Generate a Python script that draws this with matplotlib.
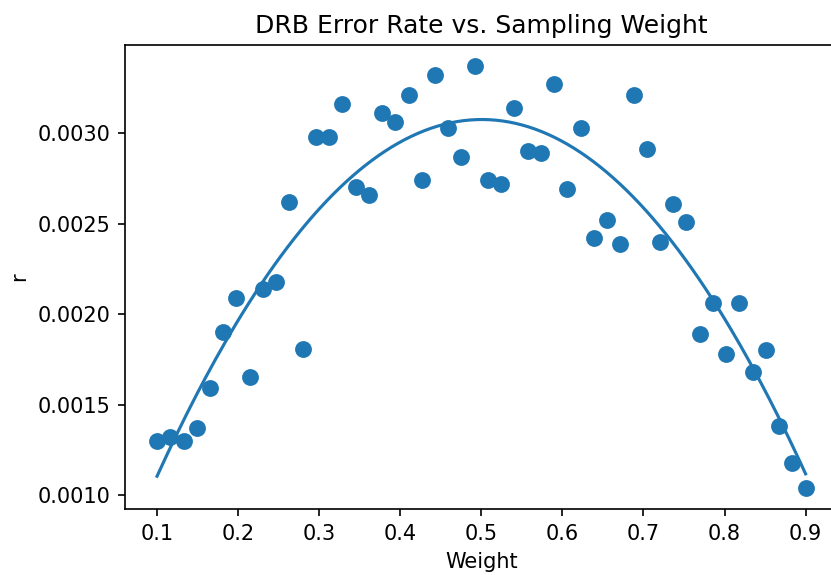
import numpy as np
import matplotlib
matplotlib.use('Agg')
import matplotlib.pyplot as plt

weights = [0.1000, 0.1163, 0.1327, 0.1490, 0.1653, 0.1816, 0.1980, 0.2143, 0.2306, 0.2469,
           0.2633, 0.2796, 0.2959, 0.3122, 0.3286, 0.3449, 0.3612, 0.3776, 0.3939, 0.4102,
           0.4265, 0.4429, 0.4592, 0.4755, 0.4918, 0.5082, 0.5245, 0.5408, 0.5571, 0.5735,
           0.5898, 0.6061, 0.6224, 0.6388, 0.6551, 0.6714, 0.6878, 0.7041, 0.7204, 0.7367,
           0.7531, 0.7694, 0.7857, 0.8020, 0.8184, 0.8347, 0.8510, 0.8673, 0.8837, 0.9000]
error_rate = [0.00130, 0.00132, 0.00130, 0.00137, 0.00159, 0.00190, 0.00209, 0.00165, 0.00214, 0.00218,
              0.00262, 0.00181, 0.00298, 0.00298, 0.00316, 0.00270, 0.00266, 0.00311, 0.00306, 0.00321,
              0.00274, 0.00332, 0.00303, 0.00287, 0.00337, 0.00274, 0.00272, 0.00314, 0.00290, 0.00289,
              0.00327, 0.00269, 0.00303, 0.00242, 0.00252, 0.00239, 0.00321, 0.00291, 0.00240, 0.00261,
              0.00251, 0.00189, 0.00206, 0.00178, 0.00206, 0.00168, 0.00180, 0.00138, 0.00118, 0.00104]

x = np.array(weights)
y = np.array(error_rate)

# quadratic fit through the points
coef = np.polyfit(x, y, 2)
x_fit = np.linspace(x.min(), x.max(), 200)
y_fit = np.polyval(coef, x_fit)

dpi = 150
fig = plt.figure(figsize=(831 / dpi, 575 / dpi), dpi=dpi)
ax = fig.add_axes([124.6 / 831, 1 - 509 / 575, (838 - 124.6) / 831, (509 - 45) / 575])

ax.scatter(x, y, s=50, color='#1f77b4')
ax.plot(x_fit, y_fit, color='#1f77b4')

ax.set_title("DRB Error Rate vs. Sampling Weight")
ax.set_xlabel("Weight")
ax.set_ylabel("r")

fig.savefig("out.png", dpi=dpi)
